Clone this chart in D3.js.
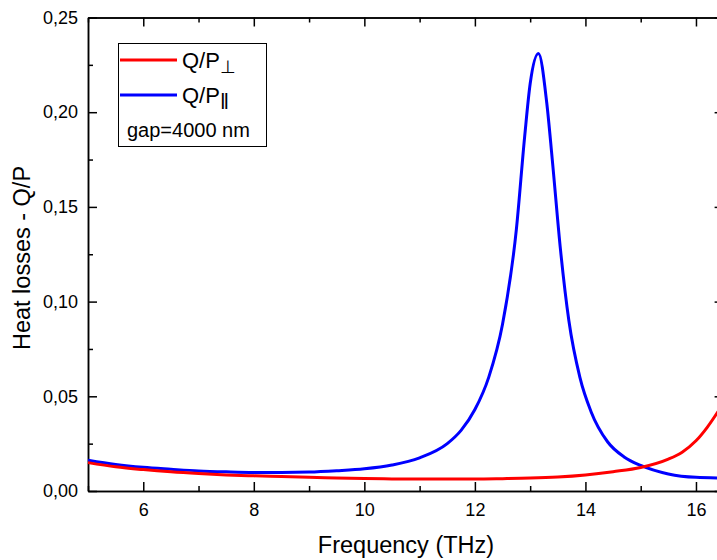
<!DOCTYPE html>
<html>
<head>
<meta charset="utf-8">
<script src="https://cdn.jsdelivr.net/npm/d3@7/dist/d3.min.js"></script>
<style>
  html, body { margin: 0; padding: 0; background: #fff; }
  svg { display: block; font-family: "Liberation Sans", Arial, sans-serif; }
</style>
</head>
<body>
<svg id="chart" width="717" height="560"></svg>
<script>
// Frequency (THz) sample points
const freqPerp = [5.0, 5.5, 6.0, 6.5, 7.0, 7.5, 8.0, 8.5, 9.0, 9.5, 10.0, 10.5, 11.0, 11.5, 12.0, 12.5, 13.0, 13.5, 14.0, 14.5, 15.0, 15.5, 15.75, 16.0, 16.2, 16.4];
const valuesPerp = [0.0150, 0.0128, 0.0113, 0.0101, 0.0092, 0.0085, 0.0080, 0.0076, 0.0072, 0.0069, 0.0066, 0.0064, 0.0063, 0.0063, 0.0063, 0.0065, 0.0068, 0.0074, 0.0085, 0.0102, 0.0124, 0.0168, 0.0205, 0.0265, 0.0335, 0.0420];

const freqPar = [5.0, 5.5, 6.0, 6.5, 7.0, 7.5, 8.0, 8.5, 9.0, 9.5, 10.0, 10.5, 11.0, 11.5, 11.75, 12.0, 12.25, 12.5, 12.75, 12.9, 13.0, 13.15, 13.3, 13.4, 13.55, 13.7, 13.9, 14.1, 14.4, 14.7, 15.0, 15.5, 16.0, 16.4];
const valuesPar = [0.0162, 0.0140, 0.0125, 0.0115, 0.0106, 0.0101, 0.0098, 0.0098, 0.0100, 0.0107, 0.0117, 0.0137, 0.0175, 0.0250, 0.0320, 0.0430, 0.0600, 0.0880, 0.1380, 0.1870, 0.2150, 0.2310, 0.2050, 0.1750, 0.1270, 0.0900, 0.0600, 0.0420, 0.0260, 0.0180, 0.0135, 0.0090, 0.0072, 0.0069];

const xMajorTicks = [6, 8, 10, 12, 14, 16];
const xMinorTicks = [5, 7, 9, 11, 13, 15];
const yMajorTicks = [0, 0.05, 0.10, 0.15, 0.20, 0.25];
const yMinorTicks = [0.025, 0.075, 0.125, 0.175, 0.225];

const xTitle = "Frequency (THz)";
const yTitle = "Heat losses - Q/P";
const legendNote = "gap=4000 nm";

const svg = d3.select("#chart");
const plotLeft = 88, plotTop = 17.5, plotBottom = 491;
const x = d3.scaleLinear().domain([5, 16.5]).range([plotLeft, plotLeft + 11.5 * 55.27]);
const y = d3.scaleLinear().domain([0, 0.25]).range([plotBottom, plotTop]);
const plotRight = x(16.5);

const fmt = v => d3.format(".2f")(v).replace(".", ",");

function styleAxis(g) {
  g.select(".domain").attr("stroke", "#000").attr("stroke-width", 1.5);
  g.selectAll(".tick line").attr("stroke", "#000").attr("stroke-width", 1.5);
  g.selectAll(".tick text").attr("fill", "#000").attr("font-size", 18)
    .attr("font-family", "Liberation Sans, Arial, sans-serif");
}

// bottom axis
svg.append("g").attr("transform", `translate(0,${plotBottom})`)
  .call(d3.axisBottom(x).tickValues(xMinorTicks).tickSize(-5).tickFormat("").tickSizeOuter(0))
  .call(styleAxis);
svg.append("g").attr("transform", `translate(0,${plotBottom})`)
  .call(d3.axisBottom(x).tickValues(xMajorTicks).tickSize(-9).tickPadding(12).tickFormat(d3.format("d")).tickSizeOuter(0))
  .call(styleAxis);
// top axis
svg.append("g").attr("transform", `translate(0,${plotTop})`)
  .call(d3.axisTop(x).tickValues(xMinorTicks).tickSize(-5).tickFormat("").tickSizeOuter(0))
  .call(styleAxis);
svg.append("g").attr("transform", `translate(0,${plotTop})`)
  .call(d3.axisTop(x).tickValues(xMajorTicks).tickSize(-9).tickFormat("").tickSizeOuter(0))
  .call(styleAxis);
// left axis
svg.append("g").attr("transform", `translate(${plotLeft},0)`)
  .call(d3.axisLeft(y).tickValues(yMinorTicks).tickSize(-5).tickFormat("").tickSizeOuter(0))
  .call(styleAxis);
svg.append("g").attr("transform", `translate(${plotLeft},0)`)
  .call(d3.axisLeft(y).tickValues(yMajorTicks).tickSize(-9).tickPadding(10).tickFormat(fmt).tickSizeOuter(0))
  .call(styleAxis);
// right axis
svg.append("g").attr("transform", `translate(${plotRight},0)`)
  .call(d3.axisRight(y).tickValues(yMinorTicks).tickSize(-5).tickFormat("").tickSizeOuter(0))
  .call(styleAxis);
svg.append("g").attr("transform", `translate(${plotRight},0)`)
  .call(d3.axisRight(y).tickValues(yMajorTicks).tickSize(-9).tickFormat("").tickSizeOuter(0))
  .call(styleAxis);

// curves
const line = d3.line().curve(d3.curveMonotoneX);
const perpPts = freqPerp.map((f, i) => [x(f), y(valuesPerp[i])]);
const parPts = freqPar.map((f, i) => [x(f), y(valuesPar[i])]);

svg.append("path").attr("d", line(parPts)).attr("fill", "none")
  .attr("stroke", "#0000ff").attr("stroke-width", 3).attr("stroke-linejoin", "round");
svg.append("path").attr("d", line(perpPts)).attr("fill", "none")
  .attr("stroke", "#ff0000").attr("stroke-width", 3).attr("stroke-linejoin", "round");

// axis titles
svg.append("text").attr("x", 406).attr("y", 553).attr("text-anchor", "middle")
  .attr("font-size", 23.5).attr("fill", "#000").text(xTitle);
svg.append("text").attr("transform", "translate(30,258) rotate(-90)").attr("text-anchor", "middle")
  .attr("font-size", 23.5).attr("fill", "#000").text(yTitle);

// legend
const lg = svg.append("g");
lg.append("rect").attr("x", 118.5).attr("y", 43.5).attr("width", 148).attr("height", 103)
  .attr("fill", "#fff").attr("stroke", "#000").attr("stroke-width", 1);
const legendItems = [
  { color: "#ff0000", sub: "\u22A5", yy: 60, subSize: 18, subDy: 5 },
  { color: "#0000ff", sub: "\u2016", yy: 95, subSize: 22, subDy: 6 }
];
legendItems.forEach(d => {
  lg.append("line").attr("x1", 120).attr("x2", 177).attr("y1", d.yy).attr("y2", d.yy)
    .attr("stroke", d.color).attr("stroke-width", 3);
  const t = lg.append("text").attr("x", 182).attr("y", d.yy + 8).attr("font-size", 22).attr("fill", "#000");
  t.append("tspan").text("Q/P");
  t.append("tspan").attr("font-size", d.subSize).attr("dy", d.subDy).text(d.sub);
});
lg.append("text").attr("x", 127).attr("y", 137).attr("font-size", 20).attr("fill", "#000").text(legendNote);
</script>
</body>
</html>
